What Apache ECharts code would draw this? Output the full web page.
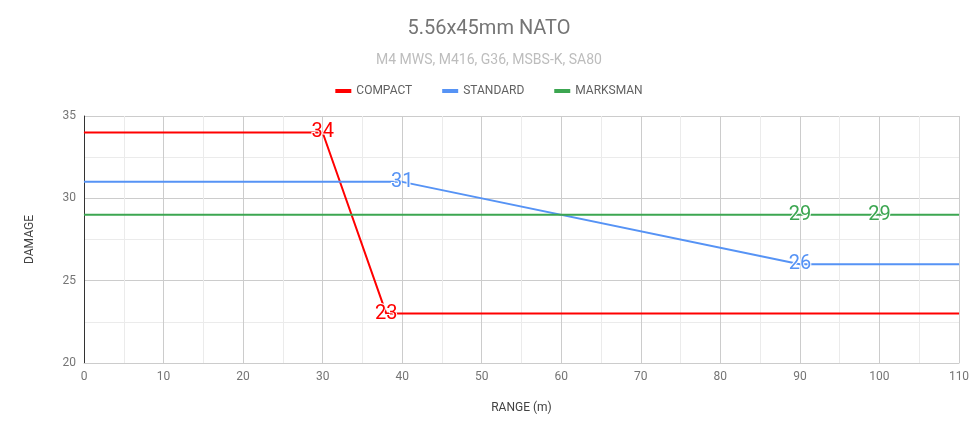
<!DOCTYPE html>
<html><head><meta charset="utf-8">
<script src="https://cdn.jsdelivr.net/npm/echarts@6/dist/echarts.min.js"></script>
<style>html,body{margin:0;background:#fff}#c{width:978px;height:435px}</style>
</head><body><div id="c"></div>
<script>
var compactData = [[0, 34], [30, 34], [38, 23], [110, 23]];
var standardData = [[0, 31], [40, 31], [90, 26], [110, 26]];
var marksmanData = [[0, 29], [90, 29], [100, 29], [110, 29]];
// index of points that carry a value label
var compactLabels = [1, 2];
var standardLabels = [1, 2];
var marksmanLabels = [1, 2];

var font = 'Roboto, "Noto Sans", sans-serif';

function toPoints(data, labelIdx, color) {
  return data.map(function (d, i) {
    return {
      value: d,
      label: {
        show: labelIdx.indexOf(i) >= 0,
        position: 'inside',
        fontSize: 20,
        color: color,
        fontFamily: font,
        textBorderColor: '#fff',
        textBorderWidth: 2,
        formatter: function (p) { return p.value[1]; }
      }
    };
  });
}

function line(name, data, labels, color) {
  return {
    name: name,
    type: 'line',
    showSymbol: true,
    symbol: 'circle',
    symbolSize: 0.5,
    lineStyle: { color: color, width: 2 },
    itemStyle: { color: color },
    data: toPoints(data, labels, color),
    animation: false
  };
}

var chart = echarts.init(document.getElementById('c'));
chart.setOption({
  textStyle: { fontFamily: font },
  title: {
    text: '5.56x45mm NATO',
    subtext: 'M4 MWS, M416, G36, MSBS-K, SA80',
    left: 'center',
    top: 14,
    itemGap: 14,
    textStyle: { fontSize: 20, fontWeight: 'normal', color: '#757575', fontFamily: font },
    subtextStyle: { fontSize: 14, color: '#bdbdbd', fontFamily: font }
  },
  legend: {
    top: 80,
    left: 'center',
    itemWidth: 16,
    itemHeight: 4,
    itemGap: 30,
    icon: 'rect',
    textStyle: { fontSize: 12, color: '#616161', fontFamily: font },
    data: ['COMPACT', 'STANDARD', 'MARKSMAN']
  },
  grid: { left: 84, right: 19, top: 116, bottom: 72 },
  xAxis: {
    type: 'value',
    min: 0, max: 110, interval: 10,
    name: 'RANGE (m)',
    nameLocation: 'middle',
    nameGap: 39,
    nameTextStyle: { color: '#424242', fontSize: 12 },
    axisLine: { lineStyle: { color: '#ccc' } },
    axisTick: { show: false },
    axisLabel: { color: '#757575', fontSize: 12 },
    splitLine: { lineStyle: { color: '#ccc' } },
    minorTick: { show: false, splitNumber: 2 },
    minorSplitLine: { show: true, lineStyle: { color: '#ebebeb' } }
  },
  yAxis: {
    type: 'value',
    min: 20, max: 35, interval: 5,
    name: 'DAMAGE',
    nameLocation: 'middle',
    nameGap: 48,
    nameTextStyle: { color: '#424242', fontSize: 12 },
    axisLine: { show: true, lineStyle: { color: '#333' } },
    axisTick: { show: false },
    axisLabel: { color: '#757575', fontSize: 12 },
    splitLine: { lineStyle: { color: '#ccc' } },
    minorTick: { show: false, splitNumber: 2 },
    minorSplitLine: { show: true, lineStyle: { color: '#ebebeb' } }
  },
  series: [
    line('COMPACT', compactData, compactLabels, '#ff0000'),
    line('STANDARD', standardData, standardLabels, '#5693f5'),
    line('MARKSMAN', marksmanData, marksmanLabels, '#3ca651')
  ]
});
</script></body></html>
